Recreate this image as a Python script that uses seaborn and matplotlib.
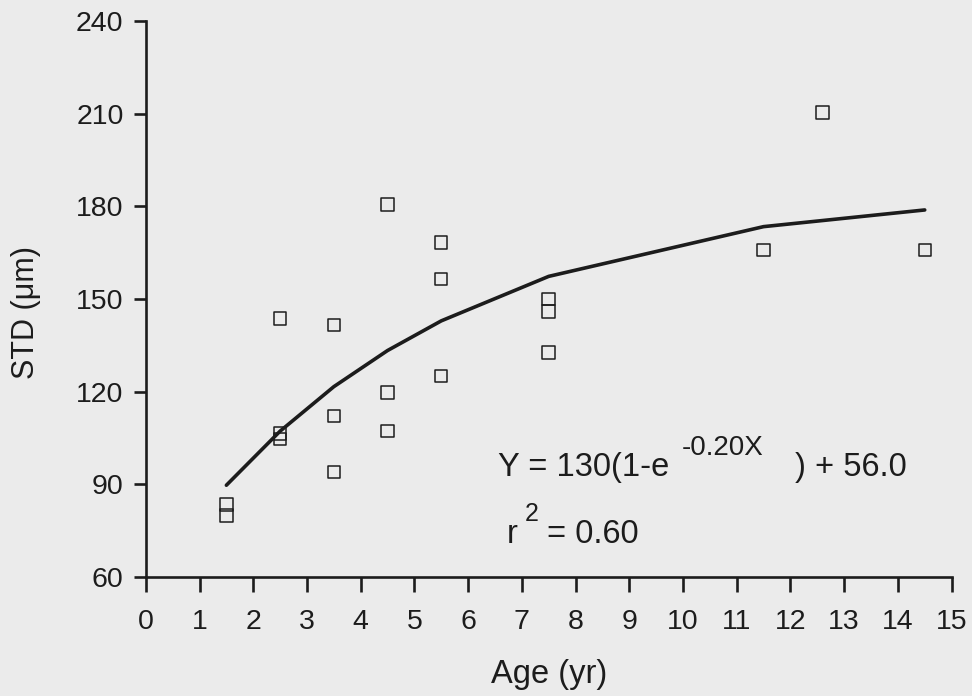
import matplotlib
matplotlib.use('Agg')
import matplotlib.pyplot as plt
import seaborn as sns
import pandas as pd

# measured points (age in years, STD in micrometres)
age = [1.5, 1.5, 2.5, 2.5, 2.5, 3.5, 3.5, 3.5, 4.5, 4.5, 4.5,
       5.5, 5.5, 5.5, 7.5, 7.5, 7.5, 11.5, 12.6, 14.5]
std = [83.4, 79.9, 143.7, 106.4, 104.6, 141.5, 112.2, 93.9, 180.5, 119.7, 107.3,
       168.3, 156.4, 125.1, 149.9, 145.9, 132.7, 165.9, 210.4, 165.9]

# fitted curve as drawn in the figure
fit_age = [1.5, 2.5, 3.5, 4.5, 5.5, 7.5, 11.5, 14.5]
fit_std = [89.7, 107.2, 121.6, 133.3, 142.9, 157.3, 173.4, 178.8]

x_ticks = list(range(0, 16))
y_ticks = [60, 90, 120, 150, 180, 210, 240]

bg = '#ebebeb'
ink = '#1c1c1c'

sns.set_theme(style='ticks')
plt.rcParams['font.family'] = ['Liberation Sans', 'DejaVu Sans']

df = pd.DataFrame({'age': age, 'std': std})
fit = pd.DataFrame({'age': fit_age, 'std': fit_std})

fig = plt.figure(figsize=(9.72, 6.96), dpi=100, facecolor=bg)
ax = fig.add_axes([0.150, 0.171, 0.829, 0.799])
ax.set_facecolor(bg)

sns.lineplot(data=fit, x='age', y='std', ax=ax, color=ink, linewidth=2.6,
             sort=False, estimator=None)
sns.scatterplot(data=df, x='age', y='std', ax=ax, marker='s', s=80,
                facecolor='none', edgecolor=ink, linewidth=1.1, zorder=3)

ax.set_xlim(0, 15)
ax.set_ylim(60, 240)
ax.set_xticks(x_ticks)
ax.set_yticks(y_ticks)

for side in ['top', 'right']:
    ax.spines[side].set_visible(False)
for side in ['left', 'bottom']:
    ax.spines[side].set_linewidth(1.9)
    ax.spines[side].set_color(ink)

ax.tick_params(axis='both', direction='out', width=1.9, color=ink,
               labelsize=20.5, labelcolor=ink)
ax.tick_params(axis='x', length=11, pad=12)
ax.tick_params(axis='y', length=9, pad=7)

ax.set_xlabel('Age (yr)', fontsize=23.5, color=ink)
ax.set_ylabel('STD (\u03bcm)', fontsize=22, color=ink)
ax.xaxis.set_label_coords(0.5, -0.147)
ax.yaxis.set_label_coords(-0.130, 0.475)

# fit equation, written piece by piece to get the raised exponent
txt = dict(color=ink, va='baseline', ha='left')
ax.text(6.55, 92.6, 'Y = 130(1-e', fontsize=23.5, **txt)
ax.text(9.98, 99.4, '-0.20X', fontsize=20, **txt)
ax.text(12.09, 92.6, ') + 56.0', fontsize=23.5, **txt)
ax.text(6.72, 71.0, 'r', fontsize=23.5, **txt)
ax.text(7.06, 78.2, '2', fontsize=18, **txt)
ax.text(7.46, 71.0, '= 0.60', fontsize=23.5, **txt)

plt.savefig('out.png', dpi=100, facecolor=bg)
plt.close()
